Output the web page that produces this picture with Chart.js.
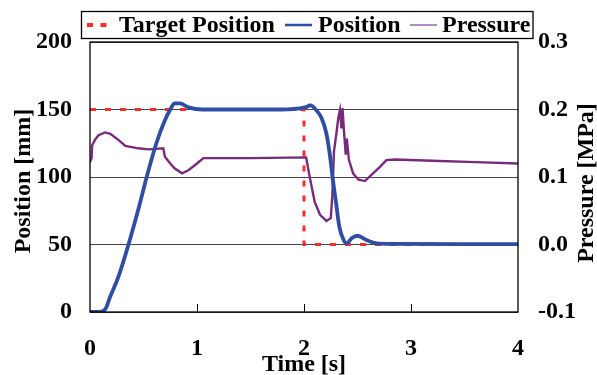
<!DOCTYPE html>
<html>
<head>
<meta charset="utf-8">
<script src="https://cdn.jsdelivr.net/npm/chart.js@4/dist/chart.umd.min.js"></script>
<style>
  html, body { margin: 0; padding: 0; background: #fff; }
  #wrap { width: 597px; height: 375px; }
</style>
</head>
<body>
<div id="wrap"><canvas id="chart" width="597" height="375"></canvas></div>
<script>
// Target position (mm)
const targetTime = [0, 2.0, 2.0, 4.0];
const targetPos = [150, 150, 50, 50];

// Measured position (mm)
const posTime = [0, 0.08, 0.12, 0.15, 0.187, 0.265, 0.36, 0.45, 0.53, 0.62, 0.70, 0.75, 0.79, 0.84, 0.92, 1.05, 1.5, 1.78, 2.01, 2.06, 2.12, 2.165, 2.21, 2.24, 2.27, 2.30, 2.33, 2.37, 2.40, 2.445, 2.50, 2.585, 2.68, 2.83, 3.5, 4.0];
const posValue = [0, 0, 0.5, 3, 11, 26, 50, 75.5, 100, 125, 142, 150, 154.5, 154.5, 151.6, 150, 150, 150, 151.6, 153, 149, 143.5, 132, 117.5, 97.8, 80.5, 63.2, 53.3, 50.9, 54.6, 56.5, 53.3, 50.9, 50.5, 50.3, 50.3];

// Pressure (MPa)
const presTime = [0, 0.015, 0.02, 0.05, 0.08, 0.14, 0.19, 0.265, 0.33, 0.45, 0.55, 0.685, 0.70, 0.75, 0.79, 0.86, 0.92, 1.0, 1.06, 1.5, 2.02, 2.056, 2.10, 2.15, 2.21, 2.25, 2.265, 2.28, 2.305, 2.32, 2.336, 2.35, 2.36, 2.374, 2.39, 2.40, 2.42, 2.46, 2.51, 2.57, 2.63, 2.71, 2.77, 2.85, 3.2, 3.6, 4.0];
const presValue = [0.122, 0.128, 0.147, 0.156, 0.162, 0.166, 0.164, 0.155, 0.146, 0.1425, 0.141, 0.1425, 0.130, 0.120, 0.113, 0.1055, 0.110, 0.120, 0.128, 0.128, 0.129, 0.098, 0.063, 0.044, 0.035, 0.039, 0.073, 0.138, 0.167, 0.187, 0.199, 0.172, 0.202, 0.167, 0.133, 0.157, 0.125, 0.105, 0.096, 0.094, 0.103, 0.115, 0.125, 0.126, 0.124, 0.122, 0.120];

// Axis ticks
const xTicks = [0, 1, 2, 3, 4];
const yTicks = [0, 50, 100, 150, 200];
const y1Ticks = [-0.1, 0.0, 0.1, 0.2, 0.3];

const toPoints = (t, v) => t.map((x, i) => ({ x: x, y: v[i] }));

const fontFamily = "'Liberation Serif', 'Times New Roman', serif";
const tickFont = { family: fontFamily, size: 24, weight: 'bold' };

const BLUE = '#2E4DA3';
const PURPLE = '#782B7C';
const RED = '#FF2A2A';

const decorations = {
  id: 'decorations',
  afterDraw(chart) {
    const ctx = chart.ctx;
    const a = chart.chartArea;
    const xs = chart.scales.x;
    ctx.save();
    // plot frame
    ctx.strokeStyle = '#000';
    ctx.lineWidth = 1.3;
    ctx.strokeRect(a.left, a.top, a.right - a.left, a.bottom - a.top);
    // inward x ticks
    ctx.lineWidth = 1;
    [1, 2, 3].forEach(v => {
      const px = Math.round(xs.getPixelForValue(v)) + 0.5;
      ctx.beginPath();
      ctx.moveTo(px, a.bottom);
      ctx.lineTo(px, a.bottom - 8);
      ctx.stroke();
    });

    // axis titles
    ctx.fillStyle = '#000';
    ctx.font = 'bold 24px ' + fontFamily;
    ctx.textAlign = 'center';
    ctx.textBaseline = 'middle';
    ctx.fillText('Time [s]', (a.left + a.right) / 2, 365);
    ctx.save();
    ctx.translate(24, 181);
    ctx.rotate(-Math.PI / 2);
    ctx.fillText('Position [mm]', 0, 0);
    ctx.restore();
    ctx.save();
    ctx.translate(587, 183);
    ctx.rotate(-Math.PI / 2);
    ctx.fillText('Pressure [MPa]', 0, 0);
    ctx.restore();

    // legend
    ctx.lineWidth = 1.3;
    ctx.strokeStyle = '#000';
    ctx.strokeRect(81.5, 11.5, 451.5, 27);
    const ly = 25;
    ctx.lineWidth = 4;
    ctx.strokeStyle = RED;
    ctx.setLineDash([6, 7.5]);
    ctx.beginPath(); ctx.moveTo(87, ly); ctx.lineTo(108, ly); ctx.stroke();
    ctx.setLineDash([]);
    ctx.lineWidth = 2.5;
    ctx.strokeStyle = BLUE;
    ctx.beginPath(); ctx.moveTo(285, ly); ctx.lineTo(312, ly); ctx.stroke();
    ctx.lineWidth = 2;
    ctx.strokeStyle = '#B58CC2';
    ctx.beginPath(); ctx.moveTo(410, ly); ctx.lineTo(437, ly); ctx.stroke();
    ctx.textAlign = 'left';
    ctx.fillText('Target Position', 119, 26);
    ctx.fillText('Position', 318, 26);
    ctx.fillText('Pressure', 442, 26);
    ctx.restore();
  }
};

new Chart(document.getElementById('chart'), {
  type: 'line',
  data: {
    datasets: [
      {
        label: 'Position',
        data: toPoints(posTime, posValue),
        borderColor: BLUE,
        borderWidth: 3.8,
        pointRadius: 0,
        cubicInterpolationMode: 'monotone',
        yAxisID: 'y',
        order: 1
      },
      {
        label: 'Pressure',
        data: toPoints(presTime, presValue),
        borderColor: PURPLE,
        borderWidth: 2.4,
        pointRadius: 0,
        tension: 0,
        yAxisID: 'y1',
        order: 2
      },
      {
        label: 'Target Position',
        data: toPoints(targetTime, targetPos),
        borderColor: RED,
        borderWidth: 3,
        borderDash: [6, 9],
        pointRadius: 0,
        tension: 0,
        yAxisID: 'y',
        order: 3
      }
    ]
  },
  options: {
    responsive: false,
    animation: false,
    layout: { padding: { top: 42, left: 0, right: 0, bottom: 0 } },
    plugins: {
      legend: { display: false },
      tooltip: { enabled: false }
    },
    scales: {
      x: {
        type: 'linear',
        min: 0,
        max: 4,
        afterBuildTicks: s => { s.ticks = xTicks.map(v => ({ value: v })); },
        afterFit: s => { s.height = 63; },
        grid: { display: false, drawTicks: false },
        border: { display: false },
        ticks: { font: tickFont, color: '#000', padding: 22, maxRotation: 0 }
      },
      y: {
        position: 'left',
        min: 0,
        max: 200,
        afterBuildTicks: s => { s.ticks = yTicks.map(v => ({ value: v })); },
        afterFit: s => { s.width = 90; },
        grid: { color: '#444', lineWidth: 1, drawTicks: false },
        border: { display: false },
        ticks: { font: tickFont, color: '#000', padding: 18 }
      },
      y1: {
        position: 'right',
        min: -0.1,
        max: 0.3,
        afterBuildTicks: s => { s.ticks = y1Ticks.map(v => ({ value: v })); },
        afterFit: s => { s.width = 79; },
        grid: { display: false, drawTicks: false },
        border: { display: false },
        ticks: { font: tickFont, color: '#000', padding: 20, callback: v => v.toFixed(1) }
      }
    }
  },
  plugins: [decorations]
});
</script>
</body>
</html>
